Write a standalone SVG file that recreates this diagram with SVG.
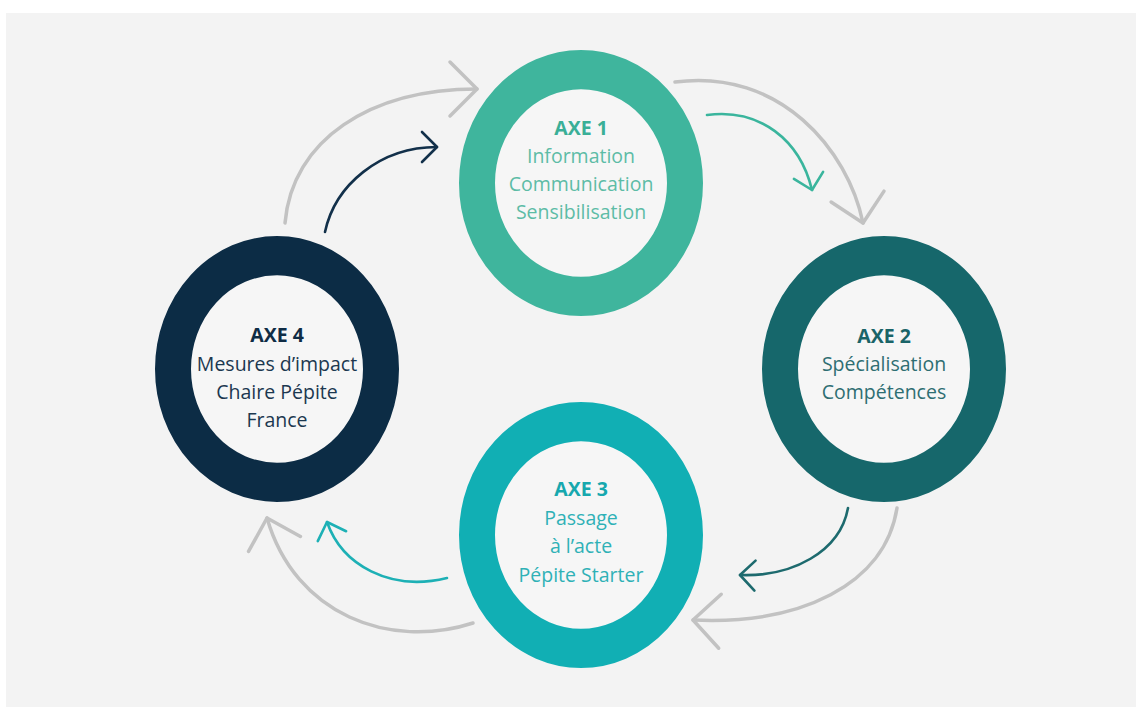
<svg xmlns="http://www.w3.org/2000/svg" width="1136" height="707" viewBox="0 0 1136 707">
<style>
.ring{fill:#f6f6f6;stroke-width:36}
.t{font-family:"Open Sans","Noto Sans",sans-serif;font-size:19.5px;text-anchor:middle}
.b{font-weight:bold}
.g{fill:none;stroke:#c2c2c2;stroke-width:3.5;stroke-linecap:round}
.c{fill:none;stroke-width:2.6;stroke-linecap:round}
</style>
<defs>
<marker id="mg" markerUnits="userSpaceOnUse" markerWidth="80" markerHeight="80" refX="0" refY="0" orient="auto" overflow="visible"><path d="M-27,-27 L0,0 L-27,27" fill="none" stroke="#c2c2c2" stroke-width="3.5" stroke-linecap="round" stroke-linejoin="round"/></marker>
<marker id="mn" markerUnits="userSpaceOnUse" markerWidth="40" markerHeight="40" refX="0" refY="0" orient="auto" overflow="visible"><path d="M-15,-15 L0,0 L-15,15" fill="none" stroke="#12304a" stroke-width="2.6" stroke-linecap="round" stroke-linejoin="round"/></marker>
<marker id="mgr" markerUnits="userSpaceOnUse" markerWidth="40" markerHeight="40" refX="0" refY="0" orient="auto" overflow="visible"><path d="M-15,-15 L0,0 L-15,15" fill="none" stroke="#3ab59d" stroke-width="2.6" stroke-linecap="round" stroke-linejoin="round"/></marker>
<marker id="mt" markerUnits="userSpaceOnUse" markerWidth="40" markerHeight="40" refX="0" refY="0" orient="auto" overflow="visible"><path d="M-15,-15 L0,0 L-15,15" fill="none" stroke="#1d6a6e" stroke-width="2.6" stroke-linecap="round" stroke-linejoin="round"/></marker>
<marker id="mc" markerUnits="userSpaceOnUse" markerWidth="40" markerHeight="40" refX="0" refY="0" orient="auto" overflow="visible"><path d="M-15,-15 L0,0 L-15,15" fill="none" stroke="#1db0b5" stroke-width="2.6" stroke-linecap="round" stroke-linejoin="round"/></marker>
</defs>
<rect x="0" y="0" width="1136" height="707" fill="#ffffff"/>
<rect x="6" y="13" width="1130" height="694" fill="#f3f3f3"/>
<g id="connectors">
<path class="g" d="M285,223 C292,140 370,89 477,89" marker-end="url(#mg)"/>
<path class="g" d="M675,82 C780,68 848,150 863,223" marker-end="url(#mg)"/>
<path class="g" d="M897,508 C885,585 800,625 693,620" marker-end="url(#mg)"/>
<path class="g" d="M473,623 C390,650 295,615 267,518" marker-end="url(#mg)"/>
<path class="c" stroke="#12304a" d="M325,232 C335,185 380,147 437,147" marker-end="url(#mn)"/>
<path class="c" stroke="#3ab59d" d="M707,115 C760,108 800,140 812,190" marker-end="url(#mgr)"/>
<path class="c" stroke="#1d6a6e" d="M848,508 C840,552 792,577 740,575" marker-end="url(#mt)"/>
<path class="c" stroke="#1db0b5" d="M447,578 C390,592 342,565 327,522" marker-end="url(#mc)"/>
</g>
<g id="axe1">
<circle class="ring" cx="0" cy="0" r="104" stroke="#3fb59d" transform="translate(581,183) scale(1,1.09)"/>
<text class="t b" x="581" y="135" fill="#3aaf97">AXE 1</text>
<text class="t" x="581" y="163" fill="#5dbca6">Information</text>
<text class="t" x="581" y="191" fill="#5dbca6">Communication</text>
<text class="t" x="581" y="219" fill="#5dbca6">Sensibilisation</text>
</g>
<g id="axe2">
<circle class="ring" cx="0" cy="0" r="104" stroke="#16676b" transform="translate(884,369) scale(1,1.09)"/>
<text class="t b" x="884" y="343" fill="#1a6468">AXE 2</text>
<text class="t" x="884" y="371" fill="#2e6e72">Spécialisation</text>
<text class="t" x="884" y="399" fill="#2e6e72">Compétences</text>
</g>
<g id="axe3">
<circle class="ring" cx="0" cy="0" r="104" stroke="#11afb4" transform="translate(581,535) scale(1,1.09)"/>
<text class="t b" x="581" y="496" fill="#17a8ae">AXE 3</text>
<text class="t" x="581" y="525" fill="#2fb1b6">Passage</text>
<text class="t" x="581" y="553" fill="#2fb1b6">à l’acte</text>
<text class="t" x="581" y="582" fill="#2fb1b6">Pépite Starter</text>
</g>
<g id="axe4">
<circle class="ring" cx="0" cy="0" r="104" stroke="#0c2c45" transform="translate(277,369) scale(1,1.09)"/>
<text class="t b" x="277" y="342" fill="#0f2c45">AXE 4</text>
<text class="t" x="277" y="371" fill="#1c3850">Mesures d’impact</text>
<text class="t" x="277" y="399" fill="#1c3850">Chaire Pépite</text>
<text class="t" x="277" y="427" fill="#1c3850">France</text>
</g>
</svg>
